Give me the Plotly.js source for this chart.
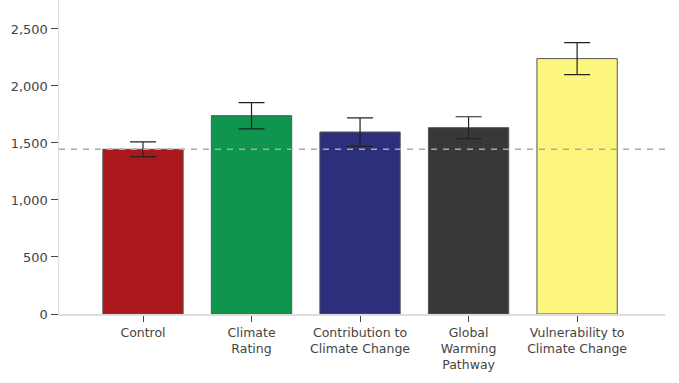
<!DOCTYPE html>
<html>
<head>
<meta charset="utf-8">
<script src="https://cdn.plot.ly/plotly-3.0.1.min.js"></script>
<style>html,body{margin:0;padding:0;background:#fff;}#chart{width:679px;height:383px;}</style>
</head>
<body>
<div id="chart"></div>
<script>
const categories = ["Control", "Climate<br>Rating", "Contribution to<br>Climate Change", "Global<br>Warming<br>Pathway", "Vulnerability to<br>Climate Change"];
const means = [1445, 1739, 1596, 1634, 2240];
const errors = [65, 115, 125, 96, 140];
const barColors = ["#AB181B", "#10954F", "#2D2E7C", "#383838", "#FDF67E"];
const referenceValue = 1445;
const yTickValues = [0, 500, 1000, 1500, 2000, 2500];

const trace = {
  type: "bar",
  x: categories,
  y: means,
  width: 0.74,
  marker: {color: barColors, line: {color: "#555", width: 1}},
  error_y: {type: "data", array: errors, visible: true, color: "#222", thickness: 1.2, width: 13},
  hoverinfo: "none"
};

const layout = {
  width: 679, height: 383,
  margin: {l: 59, r: 14, t: 0, b: 69},
  paper_bgcolor: "#fff", plot_bgcolor: "#fff",
  showlegend: false,
  font: {family: "DejaVu Sans, sans-serif", color: "#444", size: 12},
  xaxis: {
    range: [-0.774, 4.81],
    showline: true, linecolor: "#ddd", linewidth: 1.5,
    ticks: "outside", ticklen: 6, tickcolor: "#444", tickwidth: 1,
    tickfont: {size: 12.5, color: "#444"},
    showgrid: false, zeroline: false, fixedrange: true
  },
  yaxis: {
    range: [0, 2754],
    tickvals: yTickValues,
    tickformat: ",d",
    showline: true, linecolor: "#ddd", linewidth: 1.5,
    ticks: "outside", ticklen: 7, tickcolor: "#444", tickwidth: 1,
    tickfont: {size: 13, color: "#444"},
    showgrid: false, zeroline: false, fixedrange: true
  },
  shapes: [{
    type: "line", xref: "paper", yref: "y",
    x0: 0, x1: 1, y0: referenceValue, y1: referenceValue,
    line: {color: "#aaa", width: 1.5, dash: "6px,6px"},
    layer: "above"
  }]
};

Plotly.newPlot("chart", [trace], layout, {displayModeBar: false, staticPlot: true});
</script>
</body>
</html>
